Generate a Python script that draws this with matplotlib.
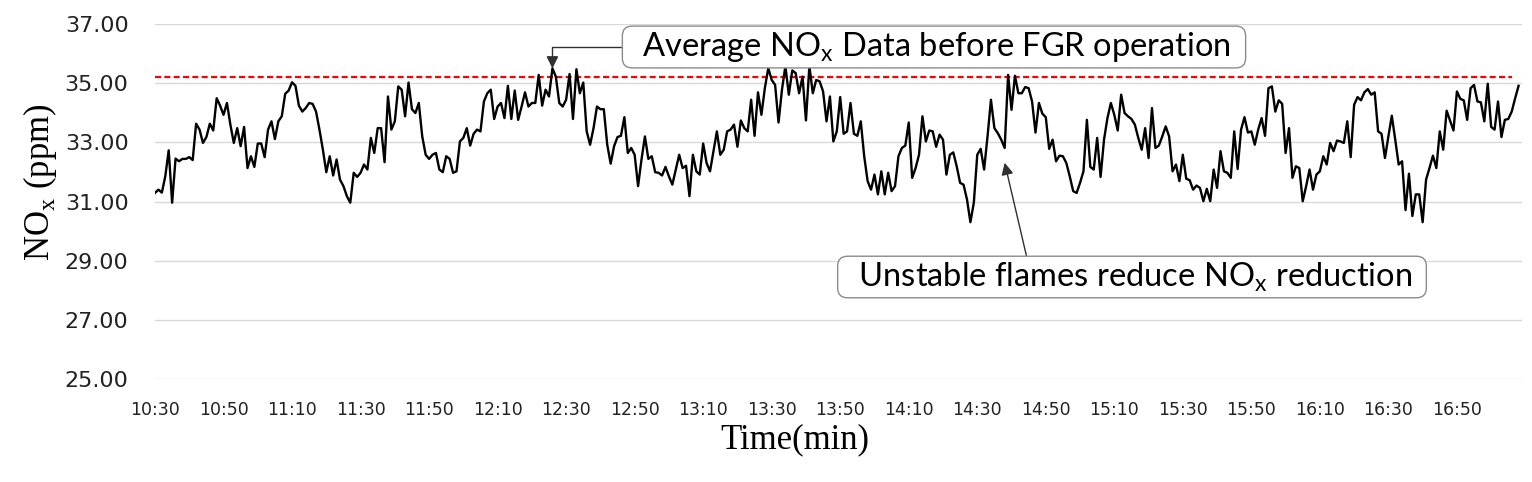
import matplotlib
matplotlib.use("Agg")
import matplotlib.pyplot as plt

# NOx readings, one per minute from 10:30 (in six pieces)
nox_a = [31.29, 31.4, 31.3, 31.85, 32.73, 30.96, 32.45, 32.36, 32.44, 32.44, 32.5, 32.4,
         33.63, 33.43, 32.98, 33.18, 33.63, 33.4, 34.49, 34.24, 33.93, 34.33, 33.6, 32.98,
         33.48, 32.87, 33.52, 32.13, 32.53, 32.17, 32.96, 32.96, 32.5, 33.43, 33.71, 33.11,
         33.71, 33.88, 34.64, 34.75, 35.03, 34.91, 34.24, 34.04, 34.16, 34.33, 34.3, 34.04,
         33.43, 32.75, 31.99, 32.53, 31.88, 32.42, 31.74, 31.52, 31.18, 30.96, 31.97, 31.83,
         31.97, 32.25, 32.08, 33.15, 32.64, 33.48, 33.48, 32.33, 34.55]
nox_b = [33.43, 33.71, 34.89, 34.78, 33.88, 35.02, 34.12, 33.99, 34.33, 33.2,
         32.58, 32.44, 32.58, 32.64, 32.08, 31.99, 32.53, 32.44, 31.97, 32.02,
         33.03, 33.15, 33.48, 32.89, 33.29, 33.43, 33.37, 34.38, 34.66, 34.78,
         33.79, 34.21, 34.33, 33.82, 34.91, 33.79, 34.75, 33.76, 34.21, 34.69,
         34.21, 34.33, 34.33, 35.28, 34.24, 34.78, 34.55, 35.5, 35.22, 34.33,
         34.21, 34.44, 35.31, 33.79, 35.47, 34.66, 35.02, 33.37, 32.92, 33.48,
         34.21, 34.12, 34.12, 32.92, 32.28, 32.87, 33.18]
nox_c = [33.22, 33.85, 32.64, 32.81, 32.58, 31.52, 32.42, 33.2, 32.44, 32.53,
         31.99, 31.97, 31.88, 32.17, 31.85, 31.57, 32.08, 32.58, 32.13, 32.21,
         31.18, 32.58, 32.02, 31.91, 32.96, 32.3, 32.02, 32.7, 33.37, 32.58,
         32.75, 33.37, 33.43, 33.6, 32.85, 33.74, 33.48, 33.37, 34.44, 33.22,
         34.69, 33.93, 34.83, 35.51, 35.11, 34.94, 33.67, 34.78, 35.58, 34.61,
         35.43, 35.34, 34.66, 35.22, 33.74, 35.58, 34.66, 35.11, 35.06, 34.72,
         33.71, 34.55, 33.03, 33.37, 34.53, 33.29, 33.37]
nox_d = [34.33, 33.29, 33.22, 33.71, 32.53, 31.69, 31.4, 31.91, 31.24, 32.02,
         31.24, 31.97, 31.35, 31.52, 32.53, 32.81, 32.89, 33.67, 31.8, 32.13,
         32.58, 33.88, 33.03, 33.4, 33.37, 32.85, 33.26, 33.09, 31.91, 32.58,
         32.66, 32.19, 31.63, 31.57, 31.07, 30.3, 30.96, 32.58, 32.78, 32.08,
         33.2, 34.44, 33.48, 33.31, 33.09, 32.81, 35.28, 34.1, 35.25, 34.66,
         34.66, 34.87, 34.83, 34.38, 33.33, 34.33, 33.97, 33.85, 32.78, 33.09,
         32.36, 32.55, 32.53, 32.3, 31.85, 31.35, 31.29]
nox_e = [31.63, 32.02, 33.76, 32.17, 32.08, 33.15, 31.83, 33.09, 33.82, 34.33,
         33.93, 33.4, 34.61, 33.99, 33.88, 33.79, 33.6, 33.15, 32.75, 33.48,
         32.47, 34.16, 32.81, 32.89, 33.2, 33.54, 33.2, 32.02, 32.25, 31.69,
         32.58, 31.77, 31.72, 31.4, 31.54, 31.46, 31.01, 31.43, 31.01, 32.08,
         31.46, 32.7, 32.02, 31.97, 31.8, 33.37, 32.1, 33.43, 33.85, 33.33,
         33.37, 32.92, 33.43, 33.82, 33.22, 34.83, 34.89, 34.04, 34.42, 34.3,
         32.64, 33.48, 31.8, 32.19, 32.13, 31.01, 31.52]
nox_f = [32.08, 31.4, 31.91, 32.02, 32.53, 32.25, 32.98, 32.7, 33.06, 33.03,
         32.98, 33.71, 32.5, 34.27, 34.53, 34.42, 34.69, 34.8, 34.61, 34.69,
         33.37, 33.29, 32.47, 33.2, 33.9, 33.09, 32.25, 32.36, 30.71, 31.94,
         30.51, 31.24, 31.24, 30.3, 31.74, 32.13, 32.55, 32.13, 33.37, 32.75,
         34.07, 33.74, 33.4, 34.72, 34.47, 34.42, 33.76, 34.83, 34.94, 34.38,
         34.35, 33.71, 34.98, 33.52, 33.43, 34.38, 33.18, 33.76, 33.79, 34.04,
         34.49, 34.91]
nox = nox_a + nox_b + nox_c + nox_d + nox_e + nox_f
minutes = list(range(len(nox)))

avg_before_fgr = 35.2
tick_labels = ["10:30", "10:50", "11:10", "11:30", "11:50", "12:10", "12:30",
               "12:50", "13:10", "13:30", "13:50", "14:10", "14:30", "14:50",
               "15:10", "15:30", "15:50", "16:10", "16:30", "16:50"]
tick_step = 20
peak_idx = 116      # arrow of the top note
unstable_idx = 248  # arrow of the bottom note

plt.rcParams['mathtext.fontset'] = 'custom'
plt.rcParams['mathtext.rm'] = 'Liberation Serif'
plt.rcParams['mathtext.sf'] = 'Lato'

fig = plt.figure(figsize=(15.32, 4.82), dpi=100)
ax = fig.add_axes([155 / 1532, 1 - 379 / 482, 1367 / 1532, 355 / 482])

ax.plot(minutes, nox, color='black', lw=1.7, zorder=3)
ax.plot(minutes[:-2], [avg_before_fgr] * (len(nox) - 2), color='red', lw=1.6,
        dashes=(2.7, 1.5), zorder=2)

ax.set_ylim(25, 37)
ax.set_yticks(range(25, 38, 2))
ax.set_yticklabels([f"{v:.2f}" for v in range(25, 38, 2)], fontsize=16, color='#222222')
ax.set_xlim(0, len(nox))
ax.set_xticks([i * tick_step for i in range(len(tick_labels))])
ax.set_xticklabels(tick_labels, fontsize=12.5, color='#222222')
ax.tick_params(length=0)
ax.tick_params(axis='y', pad=19)
ax.tick_params(axis='x', pad=16)
ax.grid(axis='y', color='#d9d9d9', lw=1)
ax.set_axisbelow(True)
for s in ax.spines.values():
    s.set_visible(False)

fig.text(40 / 1532, 1 - 182 / 482, 'NO$_\\mathrm{x}$ (ppm)', rotation=90, ha='center',
         va='center', fontsize=25, family='Liberation Serif')
fig.text(795 / 1532, 1 - 440 / 482, 'Time(min)', ha='center', va='center',
         fontsize=25, family='Liberation Serif')

box = dict(boxstyle='round,pad=0.12,rounding_size=0.3', fc='white', ec='#8c8c8c', lw=1)
ax.annotate('  Average NO$_\\mathsf{x}$ Data before FGR operation  ',
            xy=(peak_idx, nox[peak_idx]), xycoords='data',
            xytext=(934 / 1532, 1 - 47 / 482), textcoords='figure fraction',
            ha='center', va='center', fontsize=23.5, family='Lato', bbox=box,
            arrowprops=dict(arrowstyle='-|>', color='#303030', lw=1, relpos=(0, 0.5),
                            connectionstyle='angle,angleA=0,angleB=90,rad=0',
                            shrinkA=0, shrinkB=0, mutation_scale=18), zorder=5)
ax.annotate('  Unstable flames reduce NO$_\\mathsf{x}$ reduction  ',
            xy=(unstable_idx, nox[unstable_idx] - 0.5), xycoords='data',
            xytext=(1132 / 1532, 1 - 277 / 482), textcoords='figure fraction',
            ha='center', va='center', fontsize=23.5, family='Lato', bbox=box,
            arrowprops=dict(arrowstyle='-|>', color='#303030', lw=1, relpos=(0.32, 1),
                            shrinkA=0, shrinkB=0, mutation_scale=18), zorder=5)

fig.savefig('out.png', dpi=100)
